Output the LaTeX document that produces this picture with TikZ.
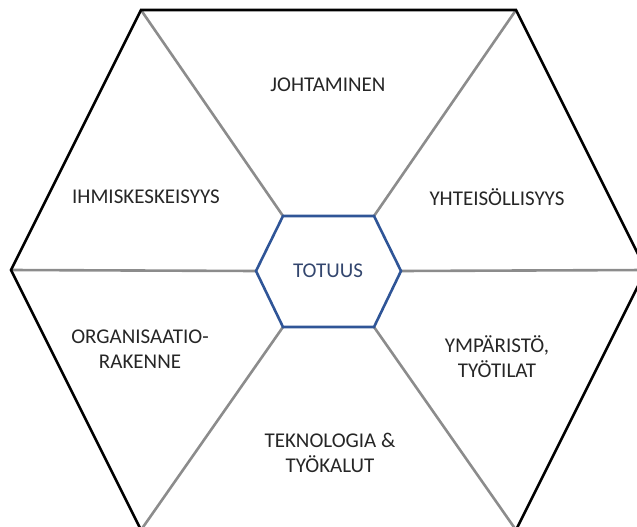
\documentclass[tikz,border=0pt]{standalone}
\usepackage{fontspec}
\setmainfont{Carlito}
\begin{document}
\begin{tikzpicture}[x=1pt,y=-1pt,
  spoke/.style={draw=black!45, line width=2.6pt},
  rim/.style={draw=black, line width=2.6pt, line join=miter},
  core/.style={draw=corehex, line width=2.6pt, line join=miter},
  label/.style={text=black!85, font=\fontsize{21}{25}\selectfont, align=center, inner sep=0pt},
  corelabel/.style={text=corefont, font=\fontsize{21}{25}\selectfont, inner sep=0pt}]
\definecolor{corehex}{HTML}{2F5597}
\definecolor{corefont}{HTML}{33466E}
\useasboundingbox (0,0) rectangle (637,527);
\clip (0,0) rectangle (637,527);
% outer hexagon corners
\coordinate (A) at (141,10);
\coordinate (B) at (516,10);
\coordinate (C) at (646,270);
\coordinate (D) at (516,530);
\coordinate (E) at (141,530);
\coordinate (F) at (11,270);
% inner hexagon corners
\coordinate (a) at (283,216);
\coordinate (b) at (374,216);
\coordinate (c) at (401,271);
\coordinate (d) at (374,327);
\coordinate (e) at (283,327);
\coordinate (f) at (256,271);
% spokes between the two hexagons
\draw[spoke] (a) -- (A);
\draw[spoke] (b) -- (B);
\draw[spoke] (c) -- (C);
\draw[spoke] (d) -- (D);
\draw[spoke] (e) -- (E);
\draw[spoke] (f) -- (F);
% hexagon outlines
\draw[rim] (A) -- (B) -- (C) -- (D) -- (E) -- (F) -- cycle;
\draw[core] (a) -- (b) -- (c) -- (d) -- (e) -- (f) -- cycle;
% sector labels
\node[corelabel] (totuus) at (328,271) {TOTUUS};
\node[label] (johtaminen) at (328,85) {JOHTAMINEN};
\node[label] (ihmis) at (146,197) {IHMISKESKEISYYS};
\node[label] (yhteis) at (497,197) {YHTEISÖLLISYYS};
\node[label] (org) at (140,349) {ORGANISAATIO-\\RAKENNE};
\node[label] (ymp) at (497,357) {YMPÄRISTÖ,\\TYÖTILAT};
\node[label] (tek) at (330,453) {TEKNOLOGIA \&\\TYÖKALUT};
\end{tikzpicture}
\end{document}
